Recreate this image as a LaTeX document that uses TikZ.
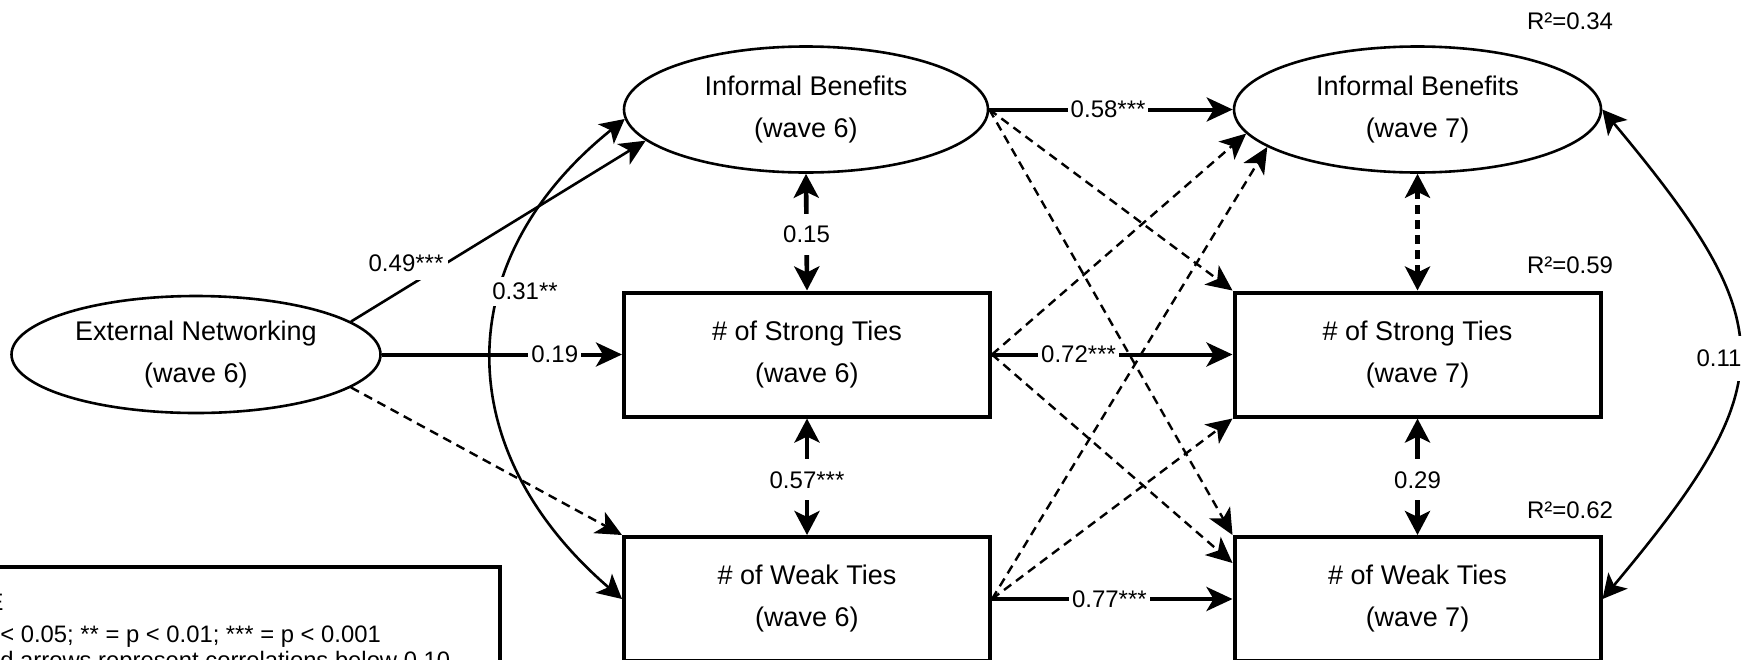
\documentclass[tikz,border=0pt]{standalone}
\usepackage{fontspec}
\setmainfont{Liberation Sans}
\usetikzlibrary{arrows.meta,shapes.geometric,calc}
\begin{document}
\begin{tikzpicture}[x=0.5pt,y=0.5pt,line join=miter]
\tikzset{
  mainfont/.style={font=\fontsize{13.5}{21}\selectfont},
  smallfont/.style={font=\fontsize{12}{14}\selectfont},
  legfont/.style={font=\fontsize{11.9}{14}\selectfont},
  ellnode/.style={draw, ellipse, line width=1.3pt, inner sep=0pt, align=center, mainfont},
  boxnode/.style={draw, rectangle, line width=2pt, inner sep=0pt, align=center, minimum width=183pt, minimum height=62pt, mainfont},
  lbl/.style={fill=white, inner xsep=1.5pt, inner ysep=2pt, smallfont},
  vlbl/.style={lbl, inner ysep=6pt},
  headA/.style={-{Stealth[length=13pt,width=12pt,inset=3.5pt]}},
  headB/.style={{Stealth[length=12pt,width=12.5pt,inset=3pt]}-{Stealth[length=12pt,width=12.5pt,inset=3pt]}},
  regline/.style={headA, line width=2pt},
  thinreg/.style={headA, line width=1.3pt},
  dashreg/.style={headA, line width=1.2pt, dash pattern=on 4.5pt off 3pt},
  corline/.style={headB, line width=2.3pt},
  dashcor/.style={headB, line width=2.3pt, dash pattern=on 4.5pt off 3pt},
  curvecor/.style={headB, line width=1.3pt},
}
\useasboundingbox (0,0) rectangle (1743,-659);
\clip (0,0) rectangle (1743,-659);
\fill[white] (0,0) rectangle (1743,-659);

% nodes
\node[ellnode, minimum width=184.5pt, minimum height=58.5pt] (en) at (196,-354.5) {External Networking\\(wave 6)};
\node[ellnode, minimum width=182pt, minimum height=63pt] (ib6) at (806,-109.5) {Informal Benefits\\(wave 6)};
\node[ellnode, minimum width=183.5pt, minimum height=63pt] (ib7) at (1417.5,-109.5) {Informal Benefits\\(wave 7)};
\node[boxnode] (st6) at (807,-354.5) {\# of Strong Ties\\(wave 6)};
\node[boxnode] (wt6) at (807,-599) {\# of Weak Ties\\(wave 6)};
\node[boxnode] (st7) at (1417.5,-354.5) {\# of Strong Ties\\(wave 7)};
\node[boxnode] (wt7) at (1417.5,-599) {\# of Weak Ties\\(wave 7)};

% R squared
\node[smallfont] (r34) at (1570,-21.5) {R²=0.34};
\node[smallfont] (r59) at (1570,-265) {R²=0.59};
\node[smallfont] (r62) at (1570,-510) {R²=0.62};

% legend
\draw[line width=1.7pt] (-20,-567) rectangle (500,-700);
\node[anchor=base east, inner sep=0pt, legfont] (legA) at (4,-610) {E};
\node[anchor=base west, inner sep=0pt, legfont] (legB) at (0,-642) {< 0.05; ** = p < 0.01; *** = p < 0.001};
\node[anchor=base west, inner sep=0pt, legfont] (legC) at (0,-668) {d arrows represent correlations below 0.10};

% external networking paths
\draw[thinreg] (en.12) -- (ib6.191);
\node[lbl, inner sep=2.5pt, text depth=2pt] (l49) at (406,-265) {0.49***};
\draw[dashreg] (en.-12) -- (wt6.north west);
\draw[regline] (en.east) -- node[lbl, pos=0.72] (l19) {0.19} (st6.west);

% left correlation curve
\draw[curvecor] (ib6.183) .. controls (449,-260) and (449,-450) .. (wt6.west);
\node[lbl, inner ysep=3pt] (l31) at (525,-291) {0.31**};

% wave 6 correlations
\draw[corline] (ib6.south) -- node[vlbl, pos=0.52] (l15) {0.15} (st6.north);
\draw[corline] (st6.south) -- node[vlbl, pos=0.527] (l57) {0.57***} (wt6.north);

% cross-lagged dashed paths
\draw[dashreg] (ib6.east) -- (st7.north west);
\draw[dashreg] (ib6.east) -- (wt7.north west);
\draw[dashreg] (st6.east) -- (ib7.188);
\draw[dashreg] (st6.east) -- ($(wt7.north west)+(0,-28)$);
\draw[dashreg] (wt6.east) -- (ib7.194);
\draw[dashreg] (wt6.east) -- (st7.south west);

% autoregressive paths
\draw[regline] (ib6.east) -- node[lbl, pos=0.488] (l58) {0.58***} (ib7.west);
\draw[regline] (st6.east) -- node[lbl, pos=0.36] (l72) {0.72***} (st7.west);
\draw[regline] (wt6.east) -- node[lbl, pos=0.488] (l77) {0.77***} (wt7.west);

% wave 7 correlations
\draw[dashcor] (ib7.south) -- (st7.north);
\draw[corline] (st7.south) -- node[vlbl, pos=0.527] (l29) {0.29} (wt7.north);
\draw[curvecor] (ib7.east) .. controls (1783,-326) and (1784,-382) .. (wt7.east);
\node[lbl, inner ysep=7pt] (l11) at (1719,-358) {0.11};
\end{tikzpicture}
\end{document}
